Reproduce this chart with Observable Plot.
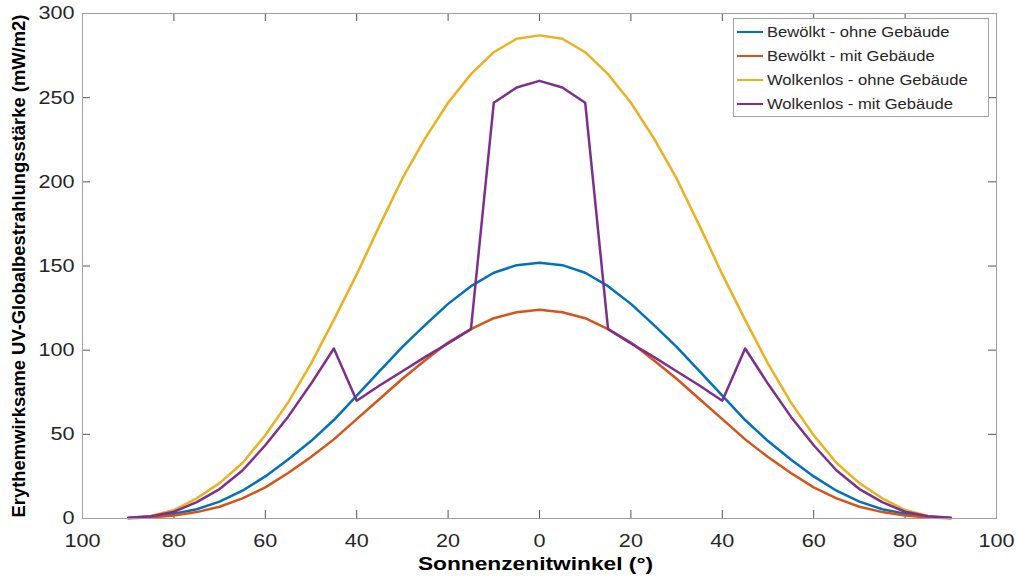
<!DOCTYPE html>
<html><head><meta charset="utf-8">
<script src="https://cdn.jsdelivr.net/npm/d3@7"></script>
<script src="https://cdn.jsdelivr.net/npm/@observablehq/plot@0.6"></script>
<style>
html,body{margin:0;padding:0;background:#fff;}
#wrap{position:relative;width:1017px;height:578px;font-family:"Liberation Sans",Arial,sans-serif;}
#legend{position:absolute;left:733px;top:18px;width:256px;height:99px;box-sizing:border-box;border:1px solid #a3a3a3;background:#fff;}
.row{position:absolute;left:0;width:100%;height:20px;}
.sw{position:absolute;left:3px;top:9px;width:26px;height:0;border-top:2.5px solid;}
.lbl{position:absolute;left:33px;top:0;line-height:20px;white-space:nowrap;font-size:15.5px;color:#262626;transform:scaleX(1.07);transform-origin:left center;}
</style></head><body><div id="wrap"></div>
<script>
// ---- data ----
const angles = [-90,-85,-80,-75,-70,-65,-60,-55,-50,-45,-40,-35,-30,-25,-20,-15,-10,-5,0,5,10,15,20,25,30,35,40,45,50,55,60,65,70,75,80,85,90];
const bewoelktOhne = [0.3,1,2.8,5.5,10,16.5,25,35,46,58.5,73,87.5,102,115,127.5,138,146,150.5,152,150.5,146,138,127.5,115,102,87.5,73,58.5,46,35,25,16.5,10,5.5,2.8,1,0.3];
const bewoelktMit = [0.2,0.6,1.8,3.8,7,12,18.5,27,36.5,47,59,71,83,94,104.5,112.5,119,122.5,124,122.5,119,112.5,104.5,94,83,71,59,47,36.5,27,18.5,12,7,3.8,1.8,0.6,0.2];
const wolkenlosOhne = [0.3,1.5,5,12,21,33,49.5,69,92,118,145,174,202,226,247,264,277,285,287,285,277,264,247,226,202,174,145,118,92,69,49.5,33,21,12,5,1.5,0.3];
const wolkenlosMit = [0.4,1.3,4,9.7,17.5,28.5,43.5,60.5,80,101,70,79,87.5,96,104,112.5,247,256,260,256,247,112.5,104,96,87.5,79,70,101,80,60.5,43.5,28.5,17.5,9.7,4,1.3,0.4];
const seriesNames = ["Bewölkt - ohne Gebäude","Bewölkt - mit Gebäude","Wolkenlos - ohne Gebäude","Wolkenlos - mit Gebäude"];
const seriesValues = [bewoelktOhne, bewoelktMit, wolkenlosOhne, wolkenlosMit];
const seriesColors = ["#0072BD","#D95319","#EDB120","#7E2F8E"];
const xTicks = [-100,-80,-60,-40,-20,0,20,40,60,80,100];
const yTicks = [0,50,100,150,200,250,300];
const xTitle = "Sonnenzenitwinkel (°)";
const yTitle = "Erythemwirksame UV-Globalbestrahlungsstärke (mW/m2)";

// ---- layout ----
const W = 1017, H = 578, mL = 82, mR = 21, mT = 13, mB = 60;
const plotW = W - mL - mR, plotH = H - mT - mB;
const tickLen = 8;
const tickColor = "#555";

const lineMarks = seriesNames.map((name, i) =>
  Plot.line(angles.map((a, j) => ({a, v: seriesValues[i][j]})),
    {x: "a", y: "v", stroke: seriesColors[i], strokeWidth: 2.5, strokeLinejoin: "round"}));

const chart = Plot.plot({
  width: W, height: H,
  marginLeft: mL, marginRight: mR, marginTop: mT, marginBottom: mB,
  style: {fontFamily: '"Liberation Sans", Arial, sans-serif', fontSize: "18.5px", color: "#262626", background: "#fff"},
  x: {domain: [-100, 100]},
  y: {domain: [0, 300]},
  marks: [
    Plot.ruleX(xTicks, {x: d => d, stroke: tickColor, insetTop: plotH - tickLen}),
    Plot.ruleX(xTicks, {x: d => d, stroke: tickColor, insetBottom: plotH - tickLen}),
    Plot.ruleY(yTicks, {y: d => d, stroke: tickColor, insetRight: plotW - tickLen}),
    Plot.ruleY(yTicks, {y: d => d, stroke: tickColor, insetLeft: plotW - tickLen}),
    ...lineMarks,
    Plot.frame({stroke: "#a0a0a0"}),
    Plot.axisX({ticks: xTicks, tickSize: 0, tickPadding: 15, tickFormat: d => String(Math.abs(d)), label: null}),
    Plot.axisY({ticks: yTicks, tickSize: 0, tickPadding: 8, label: null}),
    Plot.text([xTitle], {frameAnchor: "bottom", dx: -4, dy: 46, lineAnchor: "middle", textAnchor: "middle", text: d => d, fontWeight: "bold", fontSize: 18.5, fill: "#000"}),
    Plot.text([yTitle], {frameAnchor: "left", dx: -63, rotate: -90, lineAnchor: "middle", textAnchor: "middle", text: d => d, fontWeight: "bold", fontSize: 18.4, fill: "#000"})
  ]
});

function scaleText(el, s) {
  const t = el.getAttribute("transform");
  if (t) el.setAttribute("transform", t + ` scale(${s},1)`);
  else {
    const x = +(el.getAttribute("x") || 0), y = +(el.getAttribute("y") || 0);
    el.setAttribute("transform", `translate(${x},${y}) scale(${s},1) translate(${-x},${-y})`);
  }
}
chart.querySelectorAll('g[aria-label="x-axis tick label"] text, g[aria-label="y-axis tick label"] text').forEach(el => scaleText(el, 1.17));
chart.querySelectorAll('text').forEach(el => { if (el.textContent === xTitle) scaleText(el, 1.23); });

const wrap = document.getElementById("wrap");
wrap.appendChild(chart);

// legend
const legend = document.createElement("div");
legend.id = "legend";
seriesNames.forEach((name, i) => {
  const row = document.createElement("div");
  row.className = "row";
  row.style.top = (2.5 + i * 24.3) + "px";
  const sw = document.createElement("div");
  sw.className = "sw";
  sw.style.borderTopColor = seriesColors[i];
  const lbl = document.createElement("span");
  lbl.className = "lbl";
  lbl.textContent = name;
  row.appendChild(sw); row.appendChild(lbl);
  legend.appendChild(row);
});
wrap.appendChild(legend);
</script>
</body></html>
